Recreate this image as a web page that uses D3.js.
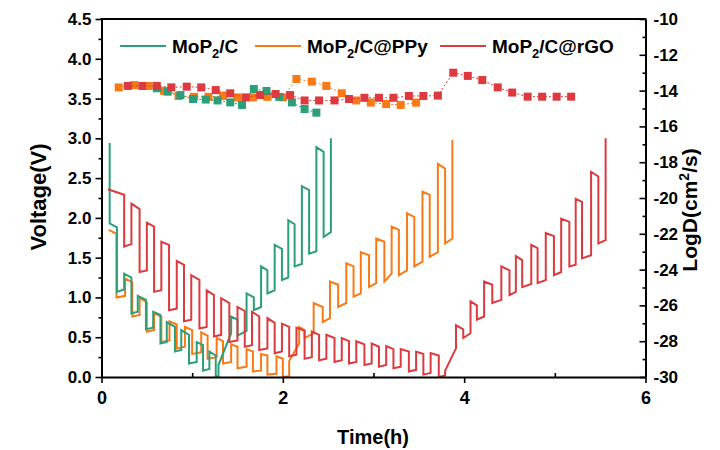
<!DOCTYPE html>
<html>
<head>
<meta charset="utf-8">
<script src="https://cdn.jsdelivr.net/npm/d3@7"></script>
<style>
    body { margin: 0; background: #fff; }
    text { font-family: "Liberation Sans", Arial, sans-serif; font-weight: bold; fill: #000; }
</style>
</head>
<body>
<div id="chart"></div>
<script>
// GITT voltage curves: each row is a vertical step [time(h), V before, V after]
var greenV = [
    [0.09, 2.94, 1.93], [0.17, 1.88, 1.07], [0.25, 1.10, 1.30], [0.33, 1.25, 0.80],
    [0.40, 0.82, 1.02], [0.49, 0.97, 0.60], [0.57, 0.62, 0.82], [0.65, 0.78, 0.42],
    [0.72, 0.44, 0.69], [0.81, 0.63, 0.32], [0.88, 0.34, 0.59], [0.965, 0.53, 0.17],
    [1.05, 0.19, 0.44], [1.12, 0.40, 0.08], [1.19, 0.10, 0.32], [1.26, 0.27, 0.00],
    [1.29, 0.01, 0.15], [1.43, 0.55, 0.76], [1.50, 0.72, 0.52], [1.60, 0.58, 1.05],
    [1.68, 1.00, 0.84], [1.76, 0.88, 1.39], [1.83, 1.34, 1.05], [1.91, 1.09, 1.66],
    [1.99, 1.61, 1.22], [2.06, 1.25, 1.97], [2.13, 1.92, 1.39], [2.21, 1.42, 2.40],
    [2.29, 2.35, 1.55], [2.37, 1.58, 2.89], [2.45, 2.83, 1.76], [2.53, 1.82, 3.00]
];
var orangeV = [
    [0.08, 1.85, 1.85], [0.165, 1.80, 1.00], [0.26, 1.02, 1.24], [0.34, 1.19, 0.76],
    [0.42, 0.78, 0.99], [0.50, 0.94, 0.57], [0.58, 0.59, 0.80], [0.66, 0.76, 0.44],
    [0.75, 0.46, 0.70], [0.83, 0.66, 0.36], [0.92, 0.38, 0.63], [1.00, 0.59, 0.29],
    [1.10, 0.31, 0.56], [1.17, 0.52, 0.23], [1.27, 0.25, 0.49], [1.34, 0.45, 0.17],
    [1.43, 0.19, 0.41], [1.50, 0.38, 0.11], [1.60, 0.13, 0.35], [1.67, 0.32, 0.07],
    [1.76, 0.08, 0.29], [1.83, 0.27, 0.03], [1.93, 0.04, 0.26], [2.00, 0.23, 0.00],
    [2.07, 0.01, 0.20], [2.18, 0.42, 0.63], [2.24, 0.59, 0.49], [2.34, 0.55, 0.93],
    [2.44, 0.88, 0.69], [2.52, 0.74, 1.20], [2.61, 1.16, 0.88], [2.70, 0.93, 1.43],
    [2.78, 1.39, 1.01], [2.86, 1.05, 1.57], [2.95, 1.53, 1.13], [3.03, 1.18, 1.74],
    [3.12, 1.70, 1.20], [3.20, 1.30, 1.89], [3.28, 1.85, 1.28], [3.37, 1.34, 2.06],
    [3.45, 2.01, 1.39], [3.54, 1.45, 2.33], [3.62, 2.29, 1.51], [3.71, 1.57, 2.68],
    [3.79, 2.62, 1.68], [3.87, 1.74, 2.98]
];
var redV = [
    [0.07, 2.36, 2.36], [0.25, 2.29, 1.64], [0.33, 1.67, 2.18], [0.42, 2.11, 1.32],
    [0.50, 1.34, 1.94], [0.58, 1.89, 1.07], [0.66, 1.09, 1.70], [0.745, 1.66, 0.84],
    [0.83, 0.86, 1.46], [0.91, 1.41, 0.70], [0.99, 0.72, 1.28], [1.08, 1.22, 0.61],
    [1.16, 0.63, 1.09], [1.24, 1.03, 0.51], [1.32, 0.53, 0.99], [1.41, 0.93, 0.44],
    [1.50, 0.46, 0.88], [1.58, 0.83, 0.38], [1.66, 0.40, 0.82], [1.74, 0.76, 0.34],
    [1.83, 0.36, 0.74], [1.91, 0.68, 0.30], [1.99, 0.32, 0.67], [2.07, 0.63, 0.26],
    [2.15, 0.28, 0.62], [2.24, 0.58, 0.23], [2.32, 0.25, 0.57], [2.40, 0.53, 0.21],
    [2.48, 0.23, 0.53], [2.57, 0.49, 0.19], [2.65, 0.21, 0.49], [2.73, 0.45, 0.17],
    [2.81, 0.19, 0.45], [2.90, 0.41, 0.15], [2.98, 0.17, 0.42], [3.06, 0.38, 0.13],
    [3.14, 0.15, 0.39], [3.22, 0.35, 0.11], [3.30, 0.13, 0.35], [3.39, 0.32, 0.07],
    [3.47, 0.09, 0.32], [3.55, 0.29, 0.03], [3.63, 0.05, 0.30], [3.72, 0.27, 0.00],
    [3.79, 0.02, 0.08], [3.91, 0.36, 0.65], [3.99, 0.60, 0.49], [4.07, 0.55, 0.95],
    [4.14, 0.90, 0.72], [4.22, 0.76, 1.20], [4.31, 1.16, 0.93], [4.41, 0.97, 1.39],
    [4.50, 1.34, 1.03], [4.57, 1.07, 1.52], [4.64, 1.47, 1.13], [4.74, 1.17, 1.66],
    [4.81, 1.62, 1.18], [4.90, 1.22, 1.81], [4.99, 1.77, 1.28], [5.07, 1.32, 1.99],
    [5.16, 1.95, 1.39], [5.23, 1.41, 2.24], [5.30, 2.20, 1.49], [5.40, 1.53, 2.58],
    [5.48, 2.52, 1.68], [5.56, 1.72, 3.00]
];

// diffusion coefficient (right axis)
var greenDT = [0.61, 0.73, 0.87, 1.01, 1.15, 1.28, 1.42, 1.55, 1.68, 1.82, 1.96, 2.10, 2.24, 2.37];
var greenD = [-13.87, -14.06, -14.25, -14.47, -14.50, -14.55, -14.66, -14.80, -13.91, -14.02, -14.35, -14.66, -15.03, -15.23];
var orangeDT = [0.19, 0.36, 0.52, 0.69, 0.85, 1.02, 1.18, 1.34, 1.50, 1.67, 1.83, 2.00, 2.15, 2.32, 2.48, 2.65, 2.81, 2.97, 3.14, 3.30, 3.47];
var orangeD = [-13.82, -13.69, -13.74, -14.02, -14.30, -14.35, -14.35, -14.30, -14.38, -14.38, -14.35, -14.38, -13.35, -13.50, -13.74, -14.15, -14.55, -14.67, -14.75, -14.80, -14.67];
var redDT = [0.29, 0.45, 0.61, 0.77, 0.94, 1.10, 1.26, 1.42, 1.59, 1.75, 1.92, 2.08, 2.24, 2.40, 2.57, 2.73, 2.90, 3.06, 3.22, 3.39, 3.55, 3.71, 3.88, 4.04, 4.20, 4.37, 4.53, 4.70, 4.86, 5.02, 5.18];
var redD = [-13.74, -13.74, -13.74, -13.82, -13.78, -13.82, -13.97, -14.15, -14.38, -14.25, -14.19, -14.25, -14.55, -14.55, -14.55, -14.47, -14.40, -14.40, -14.40, -14.30, -14.30, -14.28, -13.00, -13.18, -13.41, -13.82, -14.11, -14.34, -14.34, -14.34, -14.34];

var xTicks = [0, 2, 4, 6];
var xMinor = [1, 3, 5];
var vTicks = [0, 0.5, 1, 1.5, 2, 2.5, 3, 3.5, 4, 4.5];
var vMinor = [0.25, 0.75, 1.25, 1.75, 2.25, 2.75, 3.25, 3.75, 4.25];
var dTicks = [-30, -28, -26, -24, -22, -20, -18, -16, -14, -12, -10];
var dMinor = [-29, -27, -25, -23, -21, -19, -17, -15, -13, -11];

var series = [
    { name: "C", color: "#2a9f7a", volt: greenV, dt: greenDT, d: greenD },
    { name: "C@PPy", color: "#f97a14", volt: orangeV, dt: orangeDT, d: orangeD },
    { name: "C@rGO", color: "#dc3a3f", volt: redV, dt: redDT, d: redD }
];

(function () {
    var width = 720, height = 450;
    var plotL = 101.5, plotR = 645.5, plotT = 19, plotB = 377;

    var svg = d3.select("#chart").append("svg").attr("width", width).attr("height", height);

    var x = d3.scaleLinear().domain([0, 6]).range([plotL, plotR]);
    var yV = d3.scaleLinear().domain([0, 4.5]).range([plotB, plotT]);
    var yD = d3.scaleLinear().domain([-30, -10]).range([plotB, plotT]);

    // data layers
    var order = [series[1], series[0], series[2]];

    var dline = d3.line().x(d => x(d[0])).y(d => yD(d[1]));
    order.forEach(function (s) {
        var pts = s.dt.map((t, i) => [t, s.d[i]]);
        svg.append("path")
            .attr("d", dline(pts))
            .attr("fill", "none")
            .attr("stroke", s.color)
            .attr("stroke-width", 1)
            .attr("stroke-dasharray", "2,2");
        svg.append("g").selectAll("rect")
            .data(pts)
            .enter()
            .append("rect")
            .attr("x", d => x(d[0]) - 4)
            .attr("y", d => yD(d[1]) - 4)
            .attr("width", 8)
            .attr("height", 8)
            .attr("fill", s.color);
    });

    var vline = d3.line().x(d => x(d[0])).y(d => yV(d[1]));
    order.forEach(function (s) {
        var pts = [];
        s.volt.forEach(function (r) {
            pts.push([r[0], r[1]]);
            pts.push([r[0], r[2]]);
        });
        svg.append("path")
            .attr("d", vline(pts))
            .attr("fill", "none")
            .attr("stroke", s.color)
            .attr("stroke-width", 2)
            .attr("stroke-linejoin", "miter");
    });

    // axes
    function styleAxis(g, fs) {
        g.select(".domain").attr("stroke-width", 2);
        g.selectAll(".tick line").attr("stroke-width", 1.6);
        g.selectAll("text").attr("font-size", fs).attr("fill", "#000")
            .style("font-family", '"Liberation Sans", Arial, sans-serif').style("font-weight", "bold");
    }

    var gx = svg.append("g").attr("transform", "translate(0," + plotB + ")")
        .call(d3.axisBottom(x).tickValues(xTicks).tickFormat(d3.format("d")).tickSize(6).tickSizeOuter(0).tickPadding(8));
    styleAxis(gx, 18);
    var gxm = svg.append("g").attr("transform", "translate(0," + plotB + ")")
        .call(d3.axisBottom(x).tickValues(xMinor).tickFormat("").tickSize(-4).tickSizeOuter(0));
    gxm.select(".domain").remove();
    gxm.selectAll(".tick line").attr("stroke-width", 1.6);

    var gl = svg.append("g").attr("transform", "translate(" + plotL + ",0)")
        .call(d3.axisLeft(yV).tickValues(vTicks).tickFormat(d3.format(".1f")).tickSize(6).tickSizeOuter(0).tickPadding(4));
    styleAxis(gl, 17);
    var glm = svg.append("g").attr("transform", "translate(" + plotL + ",0)")
        .call(d3.axisLeft(yV).tickValues(vMinor).tickFormat("").tickSize(3).tickSizeOuter(0));
    glm.select(".domain").remove();
    glm.selectAll(".tick line").attr("stroke-width", 1.6);

    var gr = svg.append("g").attr("transform", "translate(" + plotR + ",0)")
        .call(d3.axisRight(yD).tickValues(dTicks).tickFormat(d => d).tickSize(-6).tickSizeOuter(0).tickPadding(8));
    styleAxis(gr, 17);
    var grm = svg.append("g").attr("transform", "translate(" + plotR + ",0)")
        .call(d3.axisRight(yD).tickValues(dMinor).tickFormat("").tickSize(-3).tickSizeOuter(0));
    grm.select(".domain").remove();
    grm.selectAll(".tick line").attr("stroke-width", 1.6);

    svg.append("line")
        .attr("x1", plotL - 1).attr("x2", plotR + 1)
        .attr("y1", plotT).attr("y2", plotT)
        .attr("stroke", "#000").attr("stroke-width", 2);

    // titles
    svg.append("text")
        .attr("x", 373).attr("y", 444)
        .attr("text-anchor", "middle").attr("font-size", 20)
        .text("Time(h)");

    svg.append("text")
        .attr("transform", "translate(46,197) rotate(-90)")
        .attr("text-anchor", "middle").attr("font-size", 22)
        .text("Voltage(V)");

    var rt = svg.append("text")
        .attr("transform", "translate(697,210) rotate(-90)")
        .attr("text-anchor", "middle").attr("font-size", 21);
    rt.append("tspan").text("LogD(cm");
    rt.append("tspan").attr("dy", -8).attr("font-size", 14).text("2");
    rt.append("tspan").attr("dy", 8).text("/s)");

    // legend
    var legendX = [120, 255, 440];
    series.forEach(function (s, i) {
        var lx = legendX[i];
        svg.append("line")
            .attr("x1", lx).attr("x2", lx + 46)
            .attr("y1", 46).attr("y2", 46)
            .attr("stroke", s.color).attr("stroke-width", 2);
        var t = svg.append("text").attr("x", lx + 52).attr("y", 53).attr("font-size", 19);
        t.append("tspan").text("MoP");
        t.append("tspan").attr("dy", 5).attr("font-size", 13).text("2");
        t.append("tspan").attr("dy", -5).text("/" + s.name);
    });
})();
</script>
</body>
</html>
